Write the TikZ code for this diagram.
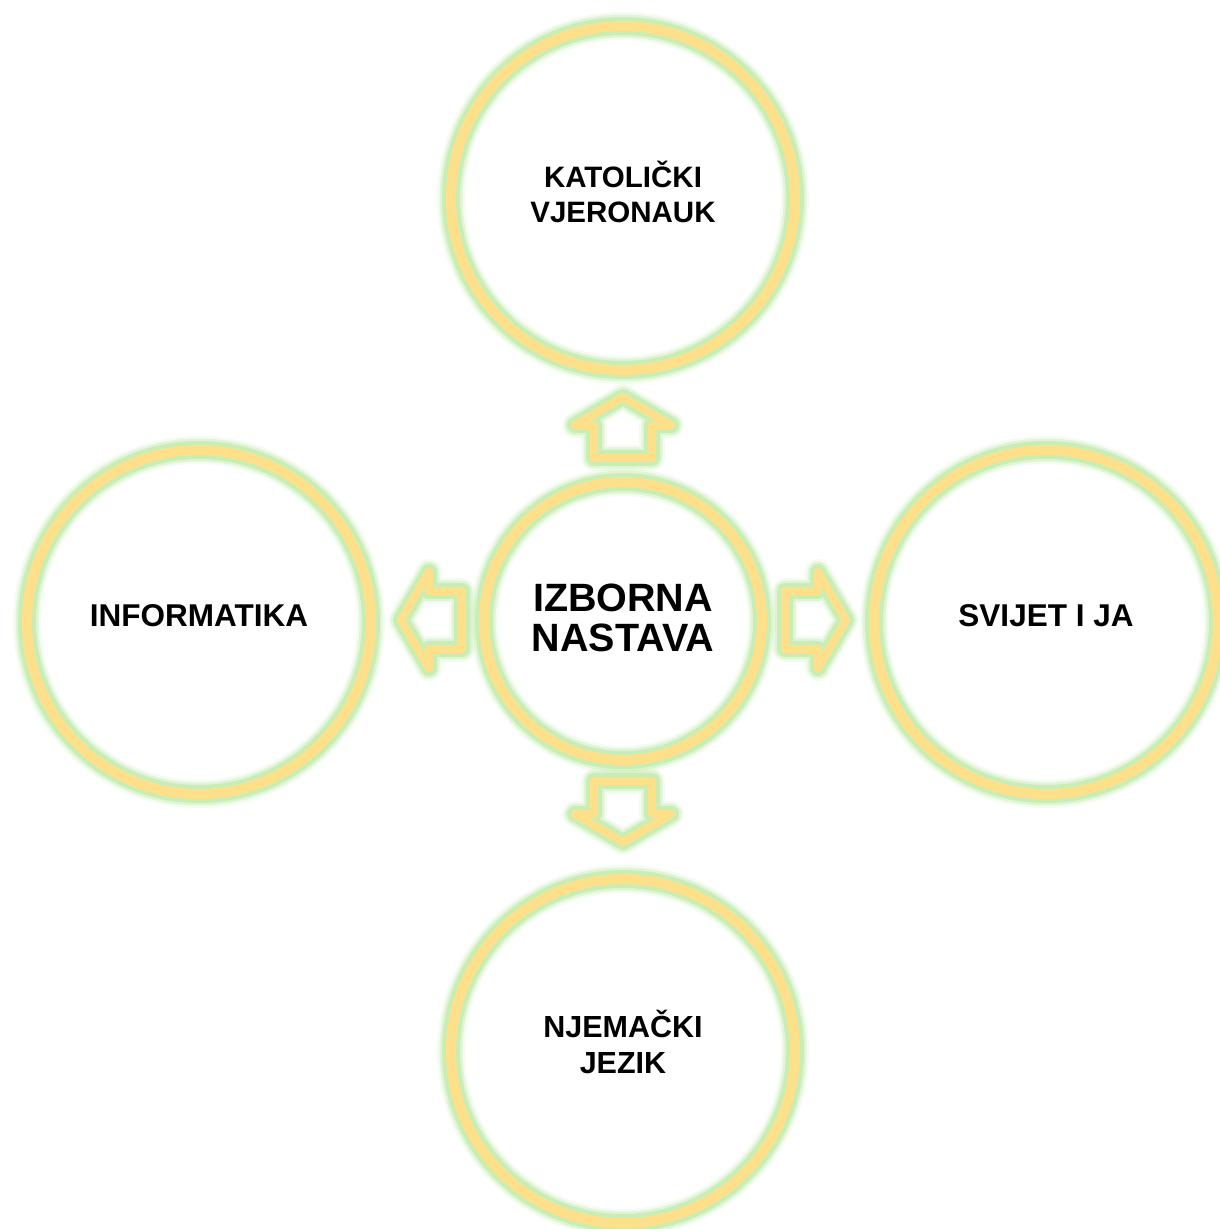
\documentclass[tikz,border=0pt]{standalone}
\usepackage{fontspec}
\setmainfont{Liberation Sans}
\usepackage{tikz}
\usepackage{xcolor}

\definecolor{ringyellow}{HTML}{FFE08A}
\definecolor{glowgreen}{HTML}{B4E69A}

\tikzset{
    glowline/.style={
        line join=round,
        preaction={draw=glowgreen, line join=round, line width=#1+18pt, draw opacity=0.15},
        preaction={draw=glowgreen, line join=round, line width=#1+13pt, draw opacity=0.3},
        preaction={draw=glowgreen, line join=round, line width=#1+8pt, draw opacity=0.55},
        draw=ringyellow, line width=#1},
    ring/.style={circle, glowline=10pt, minimum size=344pt, align=center,
        text depth=12pt, font=\fontsize{31.5}{35.5}\selectfont\bfseries},
    blockarrow/.pic={
        \draw[glowline=8pt] (0,31) -- (48,3) -- (29,3) -- (29,-30)
            -- (-29,-30) -- (-29,3) -- (-48,3) -- cycle;}
}

\begin{document}
\begin{tikzpicture}[x=1pt, y=1pt]
    \useasboundingbox (0,0) rectangle (1220,1229);
    % centre and the four subjects
    \node[ring, minimum size=278pt, text depth=6pt,
        font=\fontsize{39.5}{40}\selectfont\bfseries]
        (izborna) at (623,608) {IZBORNA\\NASTAVA};
    \node[ring, font=\fontsize{29.5}{35.5}\selectfont\bfseries]
        (vjeronauk) at (623,1031) {KATOLIČKI\\VJERONAUK};
    \node[ring] (informatika) at (199,607) {INFORMATIKA};
    \node[ring] (svijet) at (1046,607) {SVIJET I JA};
    \node[ring, text depth=18pt, font=\fontsize{30.5}{35.5}\selectfont\bfseries]
        (njemacki) at (623,178) {NJEMAČKI\\JEZIK};
    % arrows out of the centre
    \pic at (623,801) {blockarrow};
    \pic[rotate=90] at (432,609) {blockarrow};
    \pic[rotate=-90] at (815,609) {blockarrow};
    \pic[rotate=180] at (623,418) {blockarrow};
\end{tikzpicture}
\end{document}
